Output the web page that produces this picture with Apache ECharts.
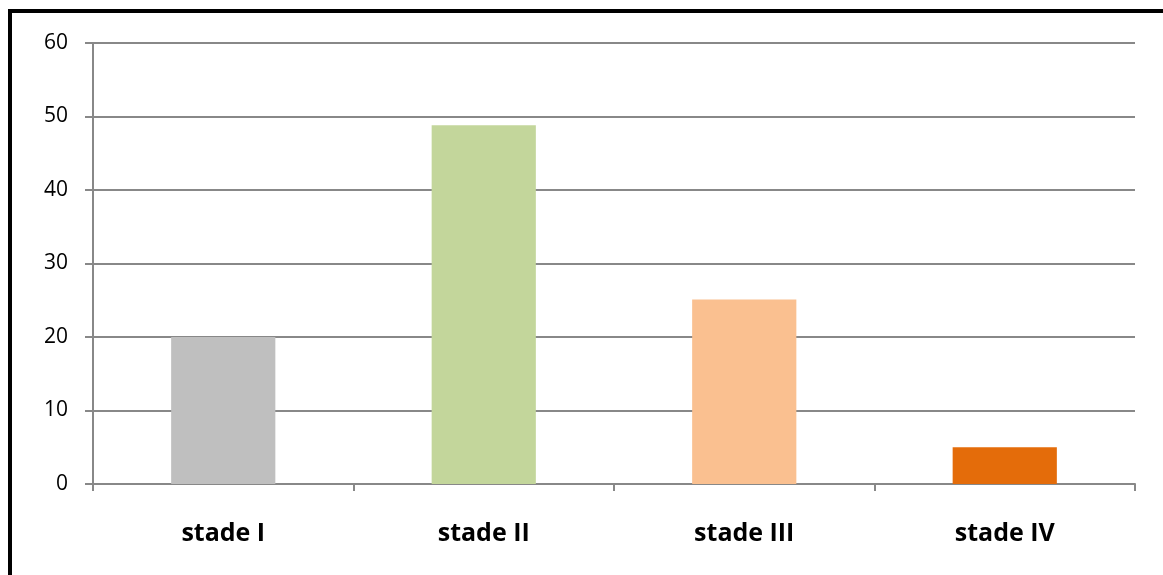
<!DOCTYPE html>
<html><head><meta charset="utf-8">
<script src="https://cdn.jsdelivr.net/npm/echarts@6/dist/echarts.min.js"></script>
<style>
html,body{margin:0;padding:0;background:#fff;}
#frame{position:absolute;left:8px;top:9px;width:1200px;height:600px;border-left:4px solid #000;border-top:4px solid #000;}
#chart{position:absolute;left:0;top:0;width:1163px;height:575px;}
</style></head>
<body>
<div id="frame"></div>
<div id="chart"></div>
<script>
const categories = ['stade I', 'stade II', 'stade III', 'stade IV'];
const values = [20, 48.8, 25.1, 5];
const barColors = ['#BFBFBF', '#C3D69B', '#FAC090', '#E46C0A'];

const chart = echarts.init(document.getElementById('chart'), null, {renderer: 'canvas'});
chart.setOption({
  animation: false,
  grid: {left: 93, right: 28, top: 43, bottom: 91},
  xAxis: {
    type: 'category',
    data: categories,
    axisLine: {lineStyle: {color: '#888888', width: 2}},
    axisTick: {show: true, length: 7, lineStyle: {color: '#888888', width: 2}},
    axisLabel: {color: '#000', fontSize: 25, fontWeight: 'bold', fontFamily: 'Open Sans, Liberation Sans, sans-serif', margin: 37}
  },
  yAxis: {
    type: 'value', min: 0, max: 60, interval: 10,
    axisLine: {show: true, lineStyle: {color: '#888888', width: 2}},
    axisTick: {show: true, length: 8, lineStyle: {color: '#888888', width: 2}},
    splitLine: {lineStyle: {color: '#888888', width: 2}},
    axisLabel: {color: '#000', fontSize: 21, fontFamily: 'Open Sans, Liberation Sans, sans-serif', margin: 25}
  },
  series: [{
    type: 'bar',
    barWidth: '40%',
    data: values.map((v, i) => ({value: v, itemStyle: {color: barColors[i]}}))
  }]
});
</script>
</body></html>
